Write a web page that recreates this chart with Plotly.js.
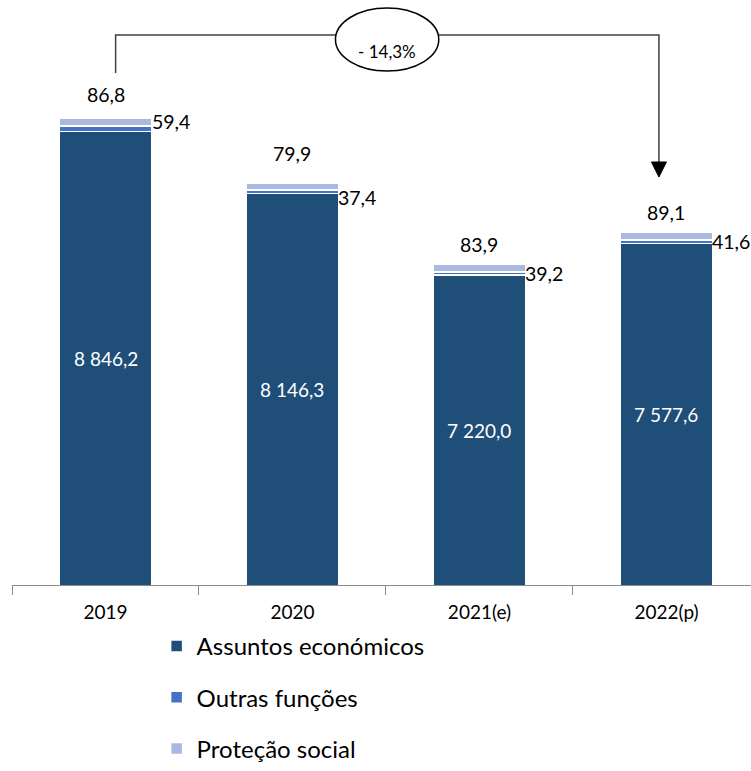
<!DOCTYPE html>
<html>
<head>
<meta charset="utf-8">
<script src="https://cdn.plot.ly/plotly-3.0.1.min.js"></script>
<style>html,body{margin:0;padding:0;background:#fff;}#chart{width:751px;height:771px;}</style>
</head>
<body>
<div id="chart"></div>
<script>
// ---- data ----
const categories = ['2019', '2020', '2021(e)', '2022(p)'];
const assuntosEconomicos = [8846.2, 8146.3, 7220.0, 7577.6];
const outrasFuncoes = [59.4, 37.4, 39.2, 41.6];
const protecaoSocial = [86.8, 79.9, 83.9, 89.1];
const seriesNames = ['Assuntos económicos', 'Outras funções', 'Proteção social'];
const changeLabel = '- 14,3%';

// ---- styling ----
const FONT = 'Lato, "Open Sans", sans-serif';
const colors = ['#1F4E79', '#4472C4', '#A9B9DF'];
const yMin = 3720, yMax = 10330;
const barWidth = 0.492;
const topLabelGap = [10, 16, 6, 6];      // px above bar total
const sideLabelShift = [7, -6, 0, 0];    // px vertical tweak of side labels

function fmt(v) {
  const s = v.toFixed(1).split('.');
  const int = s[0].replace(/\B(?=(\d{3})+(?!\d))/g, ' ');
  return int + ',' + s[1];
}

const idx = categories.map((c, i) => i);
const traces = [assuntosEconomicos, outrasFuncoes, protecaoSocial].map((vals, k) => ({
  type: 'bar',
  x: idx,
  y: vals,
  name: seriesNames[k],
  legendgroup: 'g' + k,
  width: barWidth,
  marker: { color: colors[k], line: { color: '#ffffff', width: 1.5 } },
  hoverinfo: 'skip'
}));

const annotations = [];
idx.forEach(i => {
  const a = assuntosEconomicos[i], o = outrasFuncoes[i], p = protecaoSocial[i];
  annotations.push({
    x: i, y: (yMin + a) / 2, xref: 'x', yref: 'y', text: fmt(a), showarrow: false,
    font: { family: FONT, size: 19, color: '#ffffff' }
  });
  annotations.push({
    x: i + barWidth / 2, y: a + o / 2, xref: 'x', yref: 'y', text: fmt(o), showarrow: false,
    xanchor: 'left', yanchor: 'middle', xshift: -2, yshift: sideLabelShift[i],
    font: { family: FONT, size: 19.5, color: '#000000' }
  });
  annotations.push({
    x: i, y: a + o + p, xref: 'x', yref: 'y', text: fmt(p), showarrow: false,
    yanchor: 'bottom', yshift: topLabelGap[i],
    font: { family: FONT, size: 19.5, color: '#000000' }
  });
});

annotations.push({
  x: 0.5076, y: 0.9500, xref: 'paper', yref: 'paper', text: changeLabel, showarrow: false,
  font: { family: FONT, size: 17, color: '#000000' }
});

const lineCol = '#404040';
const shapes = [
  { type: 'path', xref: 'paper', yref: 'paper',
    path: 'M 0.1402 0.9053 L 0.1402 0.9546 L 0.8754 0.9546 L 0.8754 0.7899',
    line: { color: lineCol, width: 1.5 } },
  { type: 'circle', xref: 'paper', yref: 'paper',
    x0: 0.4377, x1: 0.5775, y0: 0.9079, y1: 0.9896,
    fillcolor: '#ffffff', line: { color: '#000000', width: 1.5 } },
  { type: 'path', xref: 'paper', yref: 'paper',
    path: 'M 0.8653 0.7899 L 0.8856 0.7899 L 0.8754 0.7704 Z',
    fillcolor: '#000000', line: { color: '#000000', width: 1 } }
];

const layout = {
  width: 751, height: 771, autosize: false,
  margin: { l: 12, r: 0, t: 0, b: 0, pad: 0 },
  paper_bgcolor: '#ffffff', plot_bgcolor: '#ffffff',
  barmode: 'stack',
  showlegend: true,
  font: { family: FONT, color: '#000000' },
  xaxis: {
    type: 'linear', range: [-0.5, 3.452],
    tickvals: idx, ticktext: categories, ticks: '', ticklabelstandoff: 10,
    showline: true, linecolor: '#8c8c8c', linewidth: 1,
    showgrid: false, zeroline: false, fixedrange: true,
    tickfont: { family: FONT, size: 19, color: '#000000' }
  },
  xaxis2: {
    overlaying: 'x', range: [-0.5, 3.452], tickvals: [-0.5, 0.5, 1.5, 2.5],
    ticks: 'outside', ticklen: 9, tickcolor: '#8c8c8c', showticklabels: false,
    showgrid: false, zeroline: false, showline: false, side: 'bottom', anchor: 'y'
  },
  yaxis: {
    domain: [186 / 771, 1],
    range: [yMin, yMax], visible: false, showgrid: false, zeroline: false, fixedrange: true
  },
  legend: {
    orientation: 'v', x: 0.1957, xanchor: 'left', y: 0, yanchor: 'bottom',
    traceorder: 'grouped', tracegroupgap: 17,
    font: { family: FONT, size: 24, color: '#000000' },
    bgcolor: 'rgba(0,0,0,0)'
  },
  annotations: annotations,
  shapes: shapes
};

traces.push({ type: 'scatter', x: [0], y: [yMin], xaxis: 'x2', mode: 'markers',
  marker: { opacity: 0 }, showlegend: false, hoverinfo: 'skip' });

Plotly.newPlot('chart', traces, layout, { displayModeBar: false, staticPlot: true });
</script>
</body>
</html>
